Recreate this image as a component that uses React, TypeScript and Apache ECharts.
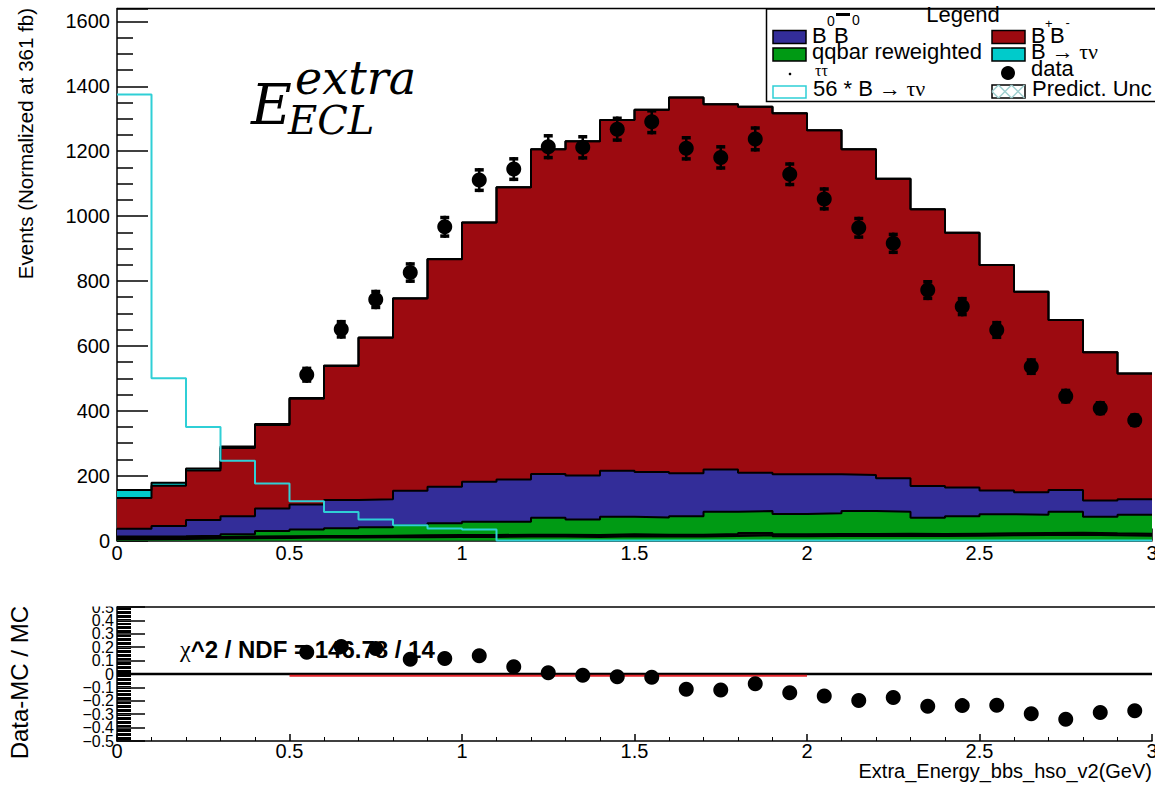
import { useEffect, useRef } from "react";
import * as echarts from "echarts";

// ---------- data ----------
const binEdges = [0.0, 0.1, 0.2, 0.3, 0.4, 0.5, 0.6, 0.7, 0.8, 0.9, 1.0, 1.1, 1.2, 1.3, 1.4, 1.5, 1.6, 1.7, 1.8, 1.9, 2.0, 2.1, 2.2, 2.3, 2.4, 2.5, 2.6, 2.7, 2.8, 2.9, 3.0];

// stacked MC components (bottom to top), events per 0.1 GeV bin
const qqbarLow = [4, 5, 6, 7, 8, 9, 9, 10, 10, 11, 11, 12, 12, 11, 13, 12, 12, 14, 16, 13, 14, 14, 15, 14, 15, 16, 17, 18, 16, 15];
const tautau = [4, 4, 5, 5, 5, 5, 5, 5, 6, 6, 6, 6, 6, 6, 6, 6, 6, 6, 7, 6, 6, 6, 6, 6, 6, 6, 6, 6, 6, 6];
const qqbar = [4, 4, 4, 7, 16, 20, 24, 26, 32, 36, 41, 40, 52, 48, 54, 53, 57, 69, 68, 63, 64, 71, 68, 50, 54, 59, 56, 65, 51, 58];
const b0b0bar = [24, 32, 48, 56, 70, 77, 87, 86, 105, 113, 123, 130, 135, 135, 142, 140, 132, 130, 118, 122, 120, 111, 103, 98, 88, 73, 70, 67, 50, 48];
const bpbm = [95, 124, 153, 210, 257, 326, 413, 498, 593, 701, 799, 901, 1001, 1031, 1081, 1117, 1159, 1126, 1128, 1113, 1061, 1004, 923, 853, 786, 695, 618, 524, 457, 388];
const btaunu = [24.55, 8.93, 6.25, 4.39, 3.14, 2.16, 1.57, 1.16, 0.84, 0.66, 0.61, 0, 0, 0, 0, 0, 0, 0, 0, 0, 0, 0, 0, 0, 0, 0, 0, 0, 0, 0];
const SIGNAL_SCALE = 56;

// data points
const dataX = [0.55, 0.65, 0.75, 0.85, 0.95, 1.05, 1.15, 1.25, 1.35, 1.45, 1.55, 1.65, 1.75, 1.85, 1.95, 2.05, 2.15, 2.25, 2.35, 2.45, 2.55, 2.65, 2.75, 2.85, 2.95];
const dataY = [511, 651, 743, 826, 967, 1111, 1145, 1214, 1212, 1268, 1291, 1209, 1181, 1238, 1129, 1053, 964, 916, 772, 721, 649, 536, 445, 408, 371];
const dataErr = [25, 29, 30, 32, 34, 37, 37, 39, 38, 39, 39, 38, 38, 39, 37, 36, 34, 33, 31, 30, 28, 26, 23, 22, 21];

// ratio panel (Data-MC)/MC
const ratio = [0.163, 0.205, 0.19, 0.11, 0.115, 0.137, 0.055, 0.01, -0.01, -0.02, -0.025, -0.113, -0.12, -0.073, -0.14, -0.165, -0.198, -0.175, -0.24, -0.236, -0.234, -0.296, -0.337, -0.288, -0.275];
const fitRange = [0.5, 2.0];
const fitValue = -0.013;
const chi2Text = "^2 / NDF = 146.78 / 14";

// ---------- helpers ----------
const cum = (...layers: number[][]) => layers[0].map((_, i) => layers.reduce((s, l) => s + l[i], 0));
const stepData = (vals: number[]) => binEdges.map((x, i) => [x, vals[Math.min(i, vals.length - 1)]]);

const SANS = "Liberation Sans, Arial, Helvetica, sans-serif";
const SERIF = "Liberation Serif, DejaVu Serif, serif";
const MATH = "DejaVu Serif, serif";

export default function App() {
  const ref = useRef<HTMLDivElement>(null);
  useEffect(() => {
    if (!ref.current) return;
    const chart = echarts.init(ref.current, undefined, { renderer: "svg" });

    const top1 = cum(qqbarLow);
    const top2 = cum(qqbarLow, tautau);
    const top3 = cum(qqbarLow, tautau, qqbar);
    const top4 = cum(qqbarLow, tautau, qqbar, b0b0bar);
    const top5 = cum(qqbarLow, tautau, qqbar, b0b0bar, bpbm);
    const top6 = cum(qqbarLow, tautau, qqbar, b0b0bar, bpbm, btaunu);
    const scaledSignal = btaunu.map((v) => v * SIGNAL_SCALE);

    const layer = (name: string, vals: number[], color: string) => ({
      name,
      type: "line",
      xAxisIndex: 0,
      yAxisIndex: 0,
      step: "end",
      symbol: "none",
      showSymbol: false,
      data: stepData(vals),
      lineStyle: { color: "#000", width: 2 },
      areaStyle: { color, opacity: 1, origin: "start" },
      z: 2,
    });

    const xFmt = (v: number) => String(Math.round(v * 10) / 10);
    const yFmt = (v: number) => String(Math.round(v));
    const rFmt = (v: number) => {
      const r = Math.round(v * 10) / 10;
      if (r === 0) return "0";
      return r < 0 ? "\u2212" + Math.abs(r).toFixed(1) : r.toFixed(1);
    };
    // second label layer: only the labels next to the panel's ends
    const rFmtInner = (v: number) => {
      const r = Math.round(v * 10) / 10;
      return Math.abs(r) === 0.4 ? rFmt(v) : "";
    };

    const txt = (
      text: string,
      x: number,
      y: number,
      size: number,
      opts: any = {}
    ) => ({
      type: "text",
      x,
      y,
      z: opts.z ?? 60,
      rotation: opts.rotation ?? 0,
      style: {
        text,
        fill: "#000",
        fontSize: size,
        lineHeight: opts.lineHeight,
        fontFamily: opts.family ?? SANS,
        fontWeight: opts.weight ?? "normal",
        fontStyle: opts.style ?? "normal",
        align: opts.align ?? "left",
        verticalAlign: "middle",
        textAlign: opts.align ?? "left",
        textVerticalAlign: "middle",
        rich: opts.rich,
      },
    });

    const swatch = (x: number, y: number, fill: string, stroke = "#000") => ({
      type: "rect",
      z: 60,
      shape: { x, y, width: 33, height: 13 },
      style: { fill, stroke, lineWidth: 1.5 },
    });

    const hatch = [
      [992, 91.5, 998.5, 85],
      [992, 91.5, 998.5, 98],
      [998.5, 85, 1011.5, 98],
      [998.5, 98, 1011.5, 85],
      [1011.5, 85, 1024.5, 98],
      [1011.5, 98, 1024.5, 85],
    ].map(([x1, y1, x2, y2]) => ({
      type: "line",
      z: 61,
      shape: { x1, y1, x2, y2 },
      style: { stroke: "#9fcfcf", lineWidth: 1.5 },
    }));

    const LH = 16;
    const arrowRich = {
      a: { fontFamily: SANS, fontSize: 22, lineHeight: LH, fill: "#000" },
      g: { fontFamily: SERIF, fontSize: 22, lineHeight: LH, fill: "#000" },
    };

    const graphics: any[] = [
      // frames
      { type: "line", z: 5, shape: { x1: 117, y1: 8.5, x2: 1155, y2: 8.5 }, style: { stroke: "#000", lineWidth: 1.5 } },
      { type: "line", z: 5, shape: { x1: 117, y1: 607, x2: 1155, y2: 607 }, style: { stroke: "#000", lineWidth: 1.5 } },
      // clip top half of the ratio panel's top label
      { type: "rect", z: 100, shape: { x: 50, y: 585, width: 66, height: 21.5 }, style: { fill: "#fff" } },
      // axis titles
      txt("Events (Normalized at 361 fb)", 25, 8, 20.5, { rotation: Math.PI / 2, align: "right" }),
      txt("Data-MC / MC", 19, 606, 24, { rotation: Math.PI / 2, align: "right" }),
      txt("Extra_Energy_bbs_hso_v2(GeV)", 1152, 771, 20, { align: "right" }),
      // E_ECL^extra label
      txt("E", 251, 104, 56, { family: MATH, style: "italic", z: 1, lineHeight: 40 }),
      txt("extra", 295, 78, 46, { family: MATH, style: "italic", z: 1, lineHeight: 30 }),
      txt("ECL", 288, 120, 40, { family: MATH, style: "italic", z: 1, lineHeight: 28 }),
      // chi2 text
      txt("{c|\u03c7}{b|" + chi2Text + "}", 180, 649, 24, {
        z: 1,
        rich: {
          c: { fontFamily: SERIF, fontSize: 24, fill: "#000" },
          b: { fontFamily: SANS, fontSize: 24, fontWeight: "bold", fill: "#000" },
        },
      }),
      // legend box
      { type: "rect", z: 55, shape: { x: 766.5, y: 9, width: 400, height: 92.5 }, style: { fill: "#fff", stroke: "#000", lineWidth: 1.5 } },
      txt("Legend", 963, 14, 22, { align: "center", lineHeight: 14 }),
      // row 1
      swatch(773, 30.5, "#332d99"),
      txt("B", 812, 35, 22, { lineHeight: LH }),
      txt("0", 827, 20.5, 14, { lineHeight: 9 }),
      txt("B", 834, 35, 22, { lineHeight: LH }),
      { type: "line", z: 61, shape: { x1: 836, y1: 14.5, x2: 850, y2: 14.5 }, style: { stroke: "#000", lineWidth: 3 } },
      txt("0", 852, 20, 14, { lineHeight: 9 }),
      swatch(992, 30.5, "#9c0a10"),
      txt("B", 1031, 35, 22, { lineHeight: LH }),
      txt("+", 1045, 23.5, 13, { lineHeight: 8 }),
      txt("B", 1050, 35, 22, { lineHeight: LH }),
      txt("-", 1065.5, 22.5, 13, { lineHeight: 8 }),
      // row 2
      swatch(773, 48, "#009a14"),
      txt("qqbar reweighted", 812, 51, 22, { lineHeight: LH }),
      swatch(992, 48, "#00cbcb"),
      txt("{a|B }{g|\u2192 \u03c4\u03bd}", 1031, 51, 22, { rich: arrowRich, lineHeight: LH }),
      // row 3
      { type: "circle", z: 60, shape: { cx: 790, cy: 74, r: 1.3 }, style: { fill: "#000" } },
      txt("\u03c4\u03c4", 815, 70, 16, { family: SERIF, lineHeight: 10 }),
      { type: "circle", z: 60, shape: { cx: 1008, cy: 73, r: 7 }, style: { fill: "#000" } },
      txt("data", 1031, 68, 22, { lineHeight: LH }),
      // row 4
      { type: "rect", z: 60, shape: { x: 773, y: 86, width: 33, height: 12 }, style: { fill: "#fff", stroke: "#2fcfd6", lineWidth: 1.5 } },
      txt("{a|56 * B }{g|\u2192 \u03c4\u03bd}", 813, 88, 22, { rich: arrowRich, lineHeight: LH }),
      { type: "rect", z: 60, shape: { x: 992, y: 85, width: 33, height: 13 }, style: { fill: "#fff", stroke: "#000", lineWidth: 1.5 } },
      ...hatch,
      txt("Predict. Unc", 1032, 88, 22, { lineHeight: LH }),
    ];

    const ratioLabel = {
      color: "#000",
      fontSize: 16,
      lineHeight: 12,
      fontFamily: SANS,
      margin: 3,
      hideOverlap: false,
    };

    const option: any = {
      animation: false,
      backgroundColor: "#fff",
      grid: [
        { left: 117, right: 3, top: 8.5, height: 532, containLabel: false, outerBoundsMode: "none" },
        { left: 117, right: 3, top: 607, height: 134, containLabel: false, outerBoundsMode: "none" },
      ],
      xAxis: [
        {
          gridIndex: 0,
          type: "value",
          min: 0,
          max: 3,
          interval: 0.5,
          axisLine: { show: true, onZero: false, lineStyle: { color: "#000", width: 1.5 } },
          axisTick: { show: true, inside: true, length: 12, lineStyle: { color: "#000", width: 1.5 } },
          minorTick: { show: true, splitNumber: 5, length: 6, lineStyle: { color: "#000", width: 1 } },
          axisLabel: { color: "#000", fontSize: 20, fontFamily: SANS, margin: 2, formatter: xFmt, showMinLabel: true, showMaxLabel: true },
          splitLine: { show: false },
          minorSplitLine: { show: false },
        },
        {
          gridIndex: 1,
          type: "value",
          min: 0,
          max: 3,
          interval: 0.5,
          axisLine: { show: true, onZero: false, lineStyle: { color: "#000", width: 1.5 } },
          axisTick: { show: true, inside: true, length: 7, lineStyle: { color: "#000", width: 1.5 } },
          minorTick: { show: true, splitNumber: 5, length: 4, lineStyle: { color: "#000", width: 1 } },
          axisLabel: { color: "#000", fontSize: 20, fontFamily: SANS, margin: 0, formatter: xFmt, showMinLabel: true, showMaxLabel: true },
          splitLine: { show: false },
          minorSplitLine: { show: false },
        },
      ],
      yAxis: [
        {
          gridIndex: 0,
          type: "value",
          position: "left",
          min: 0,
          max: 1640,
          interval: 200,
          axisLine: { show: true, onZero: false, lineStyle: { color: "#000", width: 1.5 } },
          axisTick: { show: true, inside: true, length: 31, lineStyle: { color: "#000", width: 1.5 } },
          minorTick: { show: true, splitNumber: 4, length: 16, lineStyle: { color: "#000", width: 1.5 } },
          axisLabel: { color: "#000", fontSize: 20, fontFamily: SANS, margin: 7, showMaxLabel: false, showMinLabel: true, formatter: yFmt },
          splitLine: { show: false },
          minorSplitLine: { show: false },
        },
        {
          gridIndex: 1,
          type: "value",
          position: "left",
          min: -0.5,
          max: 0.5,
          interval: 0.1,
          axisLine: { show: true, onZero: false, lineStyle: { color: "#000", width: 1.5 } },
          axisTick: { show: true, inside: true, length: 28, lineStyle: { color: "#000", width: 1.5 } },
          minorTick: { show: true, splitNumber: 10, length: 14, lineStyle: { color: "#000", width: 1 } },
          axisLabel: { ...ratioLabel, formatter: rFmt, showMinLabel: true, showMaxLabel: true },
          splitLine: { show: false },
          minorSplitLine: { show: false },
        },
        {
          gridIndex: 1,
          type: "value",
          position: "left",
          offset: 0,
          min: -0.5,
          max: 0.5,
          interval: 0.1,
          axisLine: { show: false },
          axisTick: { show: false },
          minorTick: { show: false },
          axisLabel: { ...ratioLabel, formatter: rFmtInner, showMinLabel: false, showMaxLabel: false },
          splitLine: { show: false },
          minorSplitLine: { show: false },
        },
      ],
      graphic: { elements: graphics },
      series: [
        layer("B \u2192 \u03c4\u03bd", top6, "#00cbcb"),
        layer("B+B-", top5, "#9c0a10"),
        layer("B0B0bar", top4, "#332d99"),
        layer("qqbar reweighted", top3, "#009a14"),
        layer("\u03c4\u03c4", top2, "#111"),
        layer("qqbar (low)", top1, "#009a14"),
        {
          name: "56 * B \u2192 \u03c4\u03bd",
          type: "line",
          xAxisIndex: 0,
          yAxisIndex: 0,
          step: "end",
          symbol: "none",
          showSymbol: false,
          clip: false,
          data: stepData(scaledSignal),
          lineStyle: { color: "#2fcfd6", width: 2 },
          z: 3,
        },
        {
          name: "data errors",
          type: "custom",
          xAxisIndex: 0,
          yAxisIndex: 0,
          data: dataX.map((x, i) => [x, dataY[i], dataErr[i]]),
          encode: { x: 0, y: 1 },
          z: 4,
          renderItem: (_p: any, api: any) => {
            const x = api.value(0);
            const y = api.value(1);
            const e = api.value(2);
            const lo = api.coord([x, y - e]);
            const hi = api.coord([x, y + e]);
            return {
              type: "group",
              children: [
                { type: "line", shape: { x1: lo[0], y1: lo[1], x2: hi[0], y2: hi[1] }, style: { stroke: "#000", lineWidth: 2.5 } },
                { type: "rect", shape: { x: hi[0] - 4.5, y: hi[1], width: 9, height: 3.5 }, style: { fill: "#000" } },
                { type: "rect", shape: { x: lo[0] - 4.5, y: lo[1] - 3.5, width: 9, height: 3.5 }, style: { fill: "#000" } },
              ],
            };
          },
        },
        {
          name: "data",
          type: "scatter",
          xAxisIndex: 0,
          yAxisIndex: 0,
          symbol: "circle",
          symbolSize: 15,
          itemStyle: { color: "#000", opacity: 1 },
          data: dataX.map((x, i) => [x, dataY[i]]),
          z: 5,
        },
        {
          name: "zero",
          type: "line",
          xAxisIndex: 1,
          yAxisIndex: 1,
          symbol: "none",
          data: [[0, 0], [3, 0]],
          lineStyle: { color: "#000", width: 2.5 },
          z: 3,
        },
        {
          name: "fit",
          type: "line",
          xAxisIndex: 1,
          yAxisIndex: 1,
          symbol: "none",
          data: [[fitRange[0], fitValue], [fitRange[1], fitValue]],
          lineStyle: { color: "#e3262c", width: 1.8 },
          z: 3,
        },
        {
          name: "ratio",
          type: "scatter",
          xAxisIndex: 1,
          yAxisIndex: 1,
          symbol: "circle",
          symbolSize: 15,
          itemStyle: { color: "#000", opacity: 1 },
          data: dataX.map((x, i) => [x, ratio[i]]),
          z: 5,
        },
      ],
    };

    chart.setOption(option);
    return () => chart.dispose();
  }, []);

  return (
    <div
      ref={ref}
      style={{ position: "fixed", left: 0, top: 0, width: 1155, height: 785, background: "#fff" }}
    />
  );
}
